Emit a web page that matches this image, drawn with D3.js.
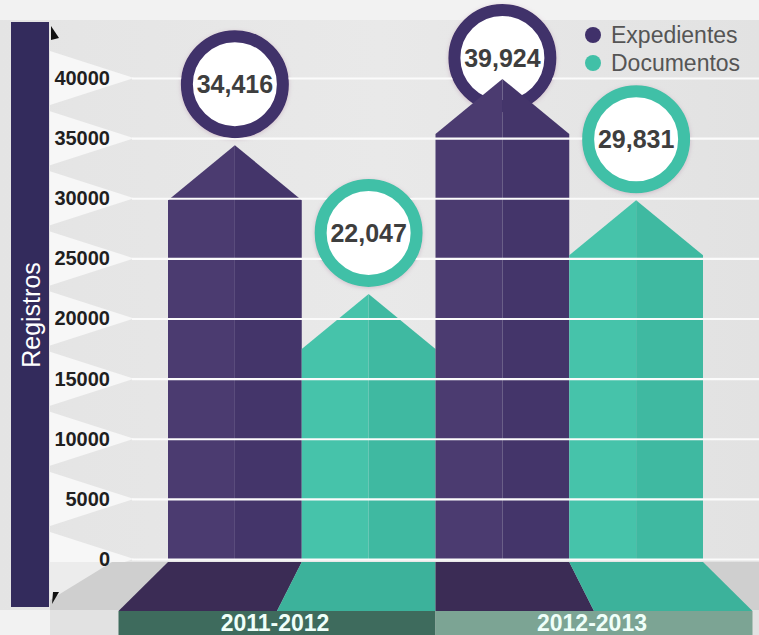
<!DOCTYPE html>
<html>
<head>
<meta charset="utf-8">
<script src="https://cdn.jsdelivr.net/npm/d3@7/dist/d3.min.js"></script>
<style>
  body { margin: 0; background: #f2f2f2; }
  svg { display: block; font-family: "Liberation Sans", Arial, Helvetica, sans-serif; }
</style>
</head>
<body>
<svg id="chart" width="759" height="635"></svg>
<script>
// data
var categories = ["2011-2012", "2012-2013"];
var series = ["Expedientes", "Documentos"];
var expedientes = [34416, 39924];
var documentos = [22047, 29831];
var yTicks = [0, 5000, 10000, 15000, 20000, 25000, 30000, 35000, 40000];

var colors = {
    Expedientes: { left: "#4b3b70", right: "#44356a", floor: "#3b2c55", ring: "#40316a" },
    Documentos: { left: "#46c3aa", right: "#3fb9a1", floor: "#3cb29b", ring: "#41c0a7" }
};
var bandColors = ["#3e6b5d", "#7ca494"];

var svg = d3.select("#chart"),
    W = +svg.attr("width"),
    H = +svg.attr("height");

var y = d3.scaleLinear().domain([0, 40000]).range([559, 78]);
var x0 = d3.scaleBand().domain(categories).range([168, 703]).paddingInner(0);
var x1 = d3.scaleBand().domain(series).range([0, x0.bandwidth()]);

var rows = [];
categories.forEach(function (c, i) {
    rows.push({ cat: c, key: "Expedientes", value: expedientes[i] });
    rows.push({ cat: c, key: "Documentos", value: documentos[i] });
});

var defs = svg.append("defs");
var bg = defs.append("linearGradient").attr("id", "bg").attr("x1", 0).attr("x2", 1).attr("y1", 0).attr("y2", 0);
bg.append("stop").attr("offset", "0%").attr("stop-color", "#e4e4e4");
bg.append("stop").attr("offset", "50%").attr("stop-color", "#e9e9e9");
bg.append("stop").attr("offset", "100%").attr("stop-color", "#e2e2e2");

var shadow = defs.append("filter").attr("id", "glow").attr("x", "-20%").attr("y", "-20%").attr("width", "140%").attr("height", "140%");
shadow.append("feDropShadow").attr("dx", 0).attr("dy", 1).attr("stdDeviation", 2)
    .attr("flood-color", "#b08aa8").attr("flood-opacity", 0.45);

// background
svg.append("rect").attr("width", W).attr("height", H).attr("fill", "#f2f2f2");
svg.append("rect").attr("x", 0).attr("y", 20).attr("width", W).attr("height", 590).attr("fill", "url(#bg)");

// white wedges behind tick labels
svg.append("g").selectAll("path")
    .data(yTicks)
    .join("path")
    .attr("d", function (t) {
        var ty = y(t);
        return "M50," + (ty - 27) + "L134," + ty + "L50," + (ty + 27) + "Z";
    })
    .attr("fill", "#f7f7f7");

// floor strip
svg.append("rect").attr("x", 50).attr("y", 562).attr("width", W - 50).attr("height", 48).attr("fill", "#cfcfcf");
svg.append("path").attr("d", "M50,562L112,562L50,600Z").attr("fill", "#ececec");
svg.append("rect").attr("x", 50).attr("y", 610).attr("width", W - 50).attr("height", 25).attr("fill", "#e2e2e2");

// left axis band
svg.append("rect").attr("x", 11).attr("y", 22).attr("width", 38).attr("height", 585).attr("fill", "#332b5c");
svg.append("text")
    .attr("transform", "translate(31,315) rotate(-90)")
    .attr("text-anchor", "middle")
    .attr("dominant-baseline", "central")
    .attr("fill", "#fff")
    .style("font-size", "25px")
    .text("Registros");
svg.append("path").attr("d", "M51,26L59,38L51,40Z").attr("fill", "#111");
svg.append("path").attr("d", "M52,604L53,592L59,592Z").attr("fill", "#111");

// perspective floor under bars
var cx = x0(categories[1]);
var stretch = 1.185;
svg.append("g").selectAll("path")
    .data(rows)
    .join("path")
    .attr("d", function (d) {
        var a = x0(d.cat) + x1(d.key), b = a + x1.bandwidth();
        var a2 = cx + (a - cx) * stretch, b2 = cx + (b - cx) * stretch;
        return "M" + a + ",562L" + b + ",562L" + b2 + ",611L" + a2 + ",611Z";
    })
    .attr("fill", function (d) { return colors[d.key].floor; });

// category bands
var bandL = cx + (x0.range()[0] - cx) * stretch,
    bandR = cx + (x0.range()[1] - cx) * stretch;
var bandX = d3.scaleBand().domain(categories).range([bandL, bandR]);
var bands = svg.append("g").selectAll("g").data(categories).join("g");
bands.append("rect")
    .attr("x", function (c) { return bandX(c); })
    .attr("y", 611)
    .attr("width", bandX.bandwidth())
    .attr("height", 24)
    .attr("fill", function (c, i) { return bandColors[i]; });
bands.append("text")
    .attr("x", function (c) { return bandX(c) + bandX.bandwidth() / 2 - 2; })
    .attr("y", 623)
    .attr("dominant-baseline", "central")
    .attr("text-anchor", "middle")
    .attr("fill", "#effff9")
    .style("font-size", "23px")
    .style("font-weight", "bold")
    .text(function (c) { return c; });

// value circles
function circleY(v) { return Math.max(58, y(v) - 61); }
var ringR = 48;

var mask = defs.append("mask").attr("id", "gridMask");
mask.append("rect").attr("width", W).attr("height", H).attr("fill", "#fff");
mask.selectAll("circle").data(rows).join("circle")
    .attr("cx", function (d) { return x0(d.cat) + x1(d.key) + x1.bandwidth() / 2; })
    .attr("cy", function (d) { return circleY(d.value); })
    .attr("r", ringR + 6)
    .attr("fill", "#000");

var labels = svg.append("g").selectAll("g").data(rows).join("g")
    .attr("transform", function (d) {
        return "translate(" + (x0(d.cat) + x1(d.key) + x1.bandwidth() / 2) + "," + circleY(d.value) + ")";
    });
labels.append("circle")
    .attr("r", ringR)
    .attr("fill", "#fff")
    .attr("stroke", function (d) { return colors[d.key].ring; })
    .attr("stroke-width", 12)
    .attr("filter", "url(#glow)");
labels.append("text")
    .attr("text-anchor", "middle")
    .attr("dy", "0.36em")
    .attr("fill", "#3e3e3e")
    .style("font-size", "25px")
    .style("font-weight", "bold")
    .text(function (d) { return d3.format(",")(d.value); });

// arrow bars
var roofH = 55;
var bars = svg.append("g").selectAll("g").data(rows).join("g");
bars.append("path")
    .attr("d", function (d) {
        var a = x0(d.cat) + x1(d.key), m = a + x1.bandwidth() / 2, top = y(d.value);
        return "M" + a + "," + y(0) + "L" + a + "," + (top + roofH) + "L" + m + "," + top + "L" + m + "," + y(0) + "Z";
    })
    .attr("fill", function (d) { return colors[d.key].left; });
bars.append("path")
    .attr("d", function (d) {
        var m = x0(d.cat) + x1(d.key) + x1.bandwidth() / 2, b = x0(d.cat) + x1(d.key) + x1.bandwidth(), top = y(d.value);
        return "M" + m + "," + y(0) + "L" + m + "," + top + "L" + b + "," + (top + roofH) + "L" + b + "," + y(0) + "Z";
    })
    .attr("fill", function (d) { return colors[d.key].right; });

// gridlines (over bars, not through circles)
svg.append("g").attr("mask", "url(#gridMask)").selectAll("line")
    .data(yTicks)
    .join("line")
    .attr("x1", 132)
    .attr("x2", W)
    .attr("y1", function (t) { return y(t) + 0.5; })
    .attr("y2", function (t) { return y(t) + 0.5; })
    .attr("stroke", "#fbfbfb")
    .attr("stroke-width", 2.2);

// y axis labels
var axis = svg.append("g")
    .attr("transform", "translate(110,0)")
    .call(d3.axisLeft(y).tickValues(yTicks).tickSize(0).tickPadding(0).tickFormat(d3.format("d")));
axis.select(".domain").remove();
axis.selectAll("text")
    .attr("fill", "#1f1f1f")
    .style("font-size", "20px")
    .style("font-weight", "bold")
    .style("font-family", "'Liberation Sans', Arial, sans-serif");

// legend
var legend = svg.append("g").selectAll("g").data(series).join("g")
    .attr("transform", function (s, i) { return "translate(593," + (35 + i * 28) + ")"; });
legend.append("circle").attr("r", 8).attr("fill", function (s) { return colors[s].ring; });
legend.append("text")
    .attr("x", 18)
    .attr("dy", "0.35em")
    .attr("fill", "#555")
    .style("font-size", "23px")
    .text(function (s) { return s; });
</script>
</body>
</html>
